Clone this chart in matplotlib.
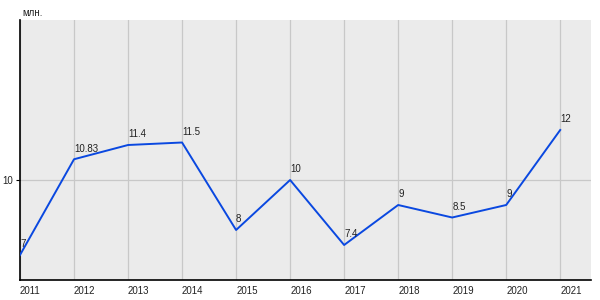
import matplotlib.pyplot as plt

years = [2011, 2012, 2013, 2014, 2015, 2016, 2017, 2018, 2019, 2020, 2021]
values = [7, 10.83, 11.4, 11.5, 8, 10, 7.4, 9, 8.5, 9, 12]
labels = ["7", "10.83", "11.4", "11.5", "8", "10", "7.4", "9", "8.5", "9", "12"]

plt.rcParams["font.family"] = ["Liberation Sans", "DejaVu Sans"]

fig = plt.figure(figsize=(6, 3), dpi=100)
ax = fig.add_axes([20 / 600, 20 / 300, 571 / 600, 260 / 300])
ax.set_facecolor("#ebebeb")

ax.plot(years, values, color="#0a48e0", lw=1.4, zorder=3)
for x, y, t in zip(years, values, labels):
    ax.annotate(t, (x, y), xytext=(0, 4), textcoords="offset points",
                ha="left", va="bottom", fontsize=7, color="#222222", zorder=4)

ax.set_xlim(2011, 2021.57)
ax.set_ylim(6.0, 16.4)
ax.set_xticks(years)
ax.set_xticklabels([str(y) for y in years], ha="left", fontsize=7, color="#222222")
ax.set_yticks([10])
ax.set_yticklabels(["10"], fontsize=7, color="#222222")
ax.tick_params(axis="x", length=0, pad=4)
ax.tick_params(axis="y", length=3, pad=2, width=0.8)
ax.grid(True, color="#c8c8c8", lw=0.9)
ax.set_axisbelow(True)

for s in ["top", "right"]:
    ax.spines[s].set_visible(False)
ax.spines["left"].set_linewidth(1.2)
ax.spines["bottom"].set_linewidth(1.2)

fig.text(22 / 600, 1 - 13 / 300, "млн.", fontsize=7, color="#222222", va="center")

fig.savefig("out.png", dpi=100)
